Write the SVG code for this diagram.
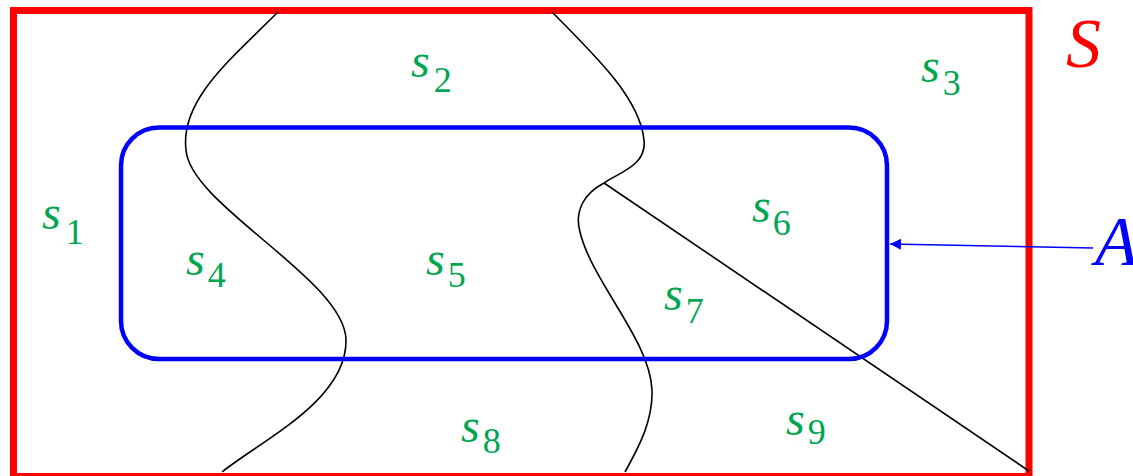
<svg xmlns="http://www.w3.org/2000/svg" width="1133" height="476" viewBox="0 0 1133 476">
<style>
text{font-family:'Liberation Serif','Times New Roman','DejaVu Serif',serif}
.lbl{font-style:italic;font-size:48px;fill:#00A651}
.sub{font-style:normal;font-size:36px}
.big{font-style:italic;font-size:70px}
.curve{fill:none;stroke:#000;stroke-width:1.6}
</style>
<defs>
<marker id="ah" viewBox="0 0 10 10" refX="10" refY="5" markerWidth="16" markerHeight="11" markerUnits="userSpaceOnUse" orient="auto">
<path d="M0,0 L10,5 L0,10 Z" fill="#0000FF"/>
</marker>
</defs>
<rect width="1133" height="476" fill="#fff"/>
<g id="S">
<rect x="13.5" y="10.5" width="1015.5" height="466" fill="none" stroke="#FF0000" stroke-width="7"/>
<text class="big" x="1066" y="67" fill="#FF0000">S</text>
</g>
<g id="partitions">
<path class="curve" d="M278,12 C230,60 180,100 186,150 C190,205 345,280 346,340 C347,400 262,440 222,472"/>
<path class="curve" d="M552,12 C600,60 640,100 644,140 C647,165 620,172 604,183 C585,193 574,210 580,232 C592,282 650,340 652,390 C653,420 640,445 625,472"/>
<path class="curve" d="M604,183 L1029,471"/>
</g>
<g id="A">
<rect x="121" y="127.5" width="766" height="231.5" rx="38" ry="38" fill="none" stroke="#0000FF" stroke-width="4.5"/>
<text class="big" x="1095" y="265" fill="#0000FF">A</text>
</g>
<g id="connectors">
<line x1="1093" y1="248" x2="890" y2="244" stroke="#0000FF" stroke-width="1.6" marker-end="url(#ah)"/>
</g>
<g id="labels">
<text id="s1" class="lbl" x="42" y="229">s<tspan class="sub" dx="5" dy="15">1</tspan></text>
<text id="s2" class="lbl" x="411" y="77">s<tspan class="sub" dx="4" dy="15">2</tspan></text>
<text id="s3" class="lbl" x="921" y="82">s<tspan class="sub" dx="3" dy="13">3</tspan></text>
<text id="s4" class="lbl" x="186" y="275">s<tspan class="sub" dx="3" dy="12">4</tspan></text>
<text id="s5" class="lbl" x="426" y="275">s<tspan class="sub" dx="3" dy="12">5</tspan></text>
<text id="s6" class="lbl" x="752" y="222">s<tspan class="sub" dx="2" dy="13">6</tspan></text>
<text id="s7" class="lbl" x="664" y="310">s<tspan class="sub" dx="3" dy="13">7</tspan></text>
<text id="s8" class="lbl" x="461" y="442">s<tspan class="sub" dx="3" dy="11">8</tspan></text>
<text id="s9" class="lbl" x="786" y="435">s<tspan class="sub" dx="3" dy="9">9</tspan></text>
</g>
</svg>
